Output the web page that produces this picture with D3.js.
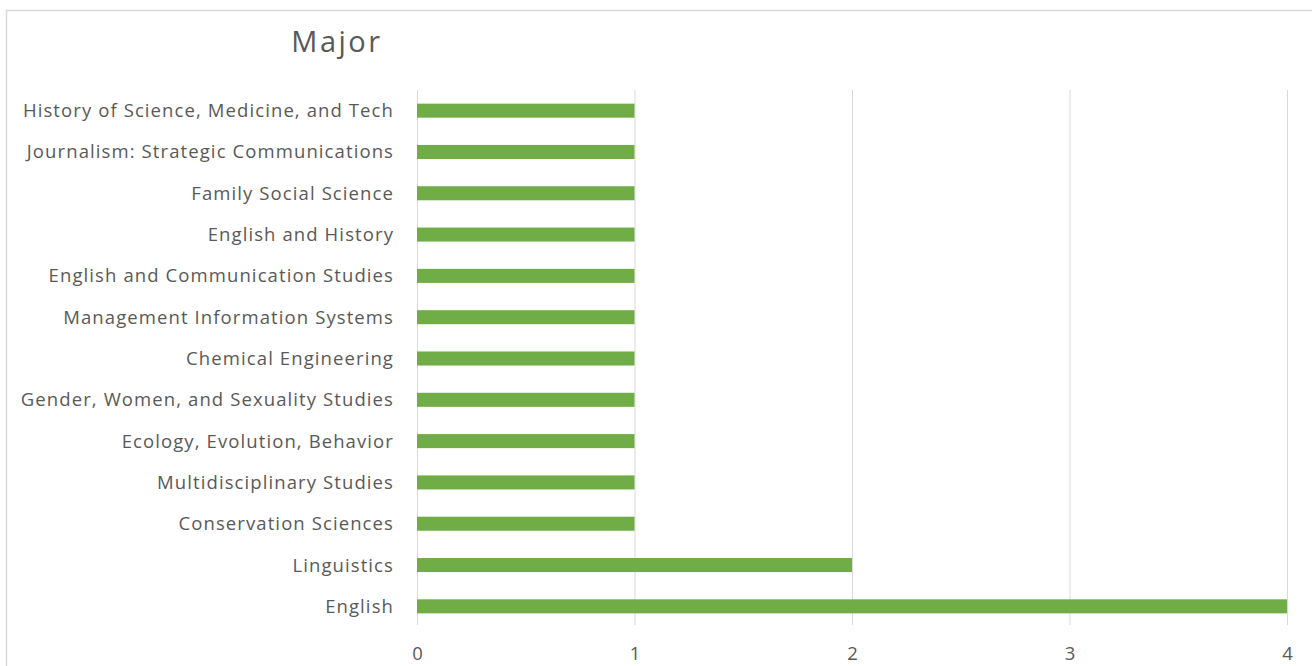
<!DOCTYPE html>
<html>
<head>
<meta charset="utf-8">
<script src="https://cdn.jsdelivr.net/npm/d3@7"></script>
<style>
  html, body { margin: 0; padding: 0; background: #fff; }
  svg { display: block; }
  text { font-family: "Open Sans", sans-serif; fill: #595959; }
</style>
</head>
<body>
<svg id="chart" width="1312" height="666"></svg>
<script>
// Majors, listed top to bottom
const categories = [
  "History of Science, Medicine, and Tech",
  "Journalism: Strategic Communications",
  "Family Social Science",
  "English and History",
  "English and Communication Studies",
  "Management Information Systems",
  "Chemical Engineering",
  "Gender, Women, and Sexuality Studies",
  "Ecology, Evolution, Behavior",
  "Multidisciplinary Studies",
  "Conservation Sciences",
  "Linguistics",
  "English"
];
const counts = [1, 1, 1, 1, 1, 1, 1, 1, 1, 1, 1, 2, 4];
const tickValues = [0, 1, 2, 3, 4];
const title = "Major";

const svg = d3.select("#chart");

// outer chart frame
svg.append("rect")
  .attr("x", 6.5).attr("y", 10.5)
  .attr("width", 1400).attr("height", 700)
  .attr("fill", "#fff")
  .attr("stroke", "#d9d9d9").attr("stroke-width", 1.5);

const plot = { left: 417, right: 1287, top: 90, bottom: 627 };

const x = d3.scaleLinear().domain([0, 4]).range([plot.left, plot.right]);
const y = d3.scaleBand()
  .domain(categories)
  .range([plot.top, plot.bottom])
  .paddingInner(0.66)
  .paddingOuter(0.33);

// vertical gridlines
svg.append("g")
  .selectAll("line")
  .data(tickValues)
  .join("line")
  .attr("x1", d => x(d) + 0.5).attr("x2", d => x(d) + 0.5)
  .attr("y1", plot.top).attr("y2", plot.bottom - 2)
  .attr("stroke", "#d9d9d9").attr("stroke-width", 1);

// bars
svg.append("g")
  .selectAll("rect")
  .data(categories.map((c, i) => ({ c, v: counts[i] })))
  .join("rect")
  .attr("x", x(0))
  .attr("y", d => y(d.c))
  .attr("width", d => x(d.v) - x(0))
  .attr("height", y.bandwidth())
  .attr("fill", "#70ad47");

// category labels
const yAxis = d3.axisLeft(y).tickSize(0).tickPadding(23);
const gy = svg.append("g").attr("transform", `translate(${plot.left},0)`).call(yAxis);
gy.select(".domain").remove();
gy.selectAll("text")
  .style("font-size", "18.5px")
  .style("letter-spacing", "1.1px")
  .style("font-family", "'Open Sans', sans-serif")
  .attr("fill", "#595959")
  .attr("dy", "0.35em");

// value axis labels
const xAxis = d3.axisBottom(x).tickValues(tickValues).tickFormat(d3.format("d")).tickSize(0).tickPadding(20);
const gx = svg.append("g").attr("transform", `translate(0,${plot.bottom})`).call(xAxis);
gx.select(".domain").remove();
gx.selectAll("text")
  .style("font-size", "18.5px")
  .style("font-family", "'Open Sans', sans-serif")
  .attr("fill", "#595959");

// title
svg.append("text")
  .attr("x", 337).attr("y", 52)
  .attr("text-anchor", "middle")
  .style("font-size", "29px")
  .style("letter-spacing", "2.5px")
  .text(title);
</script>
</body>
</html>
